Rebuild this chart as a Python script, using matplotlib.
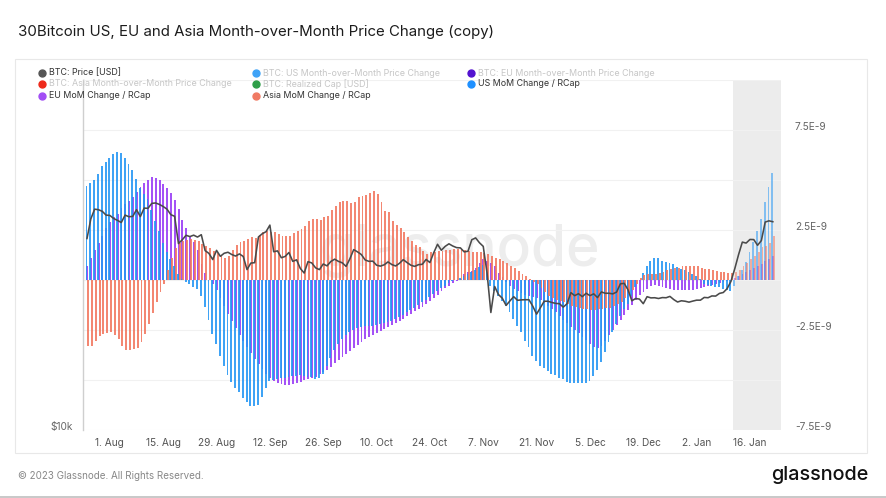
import datetime as dt

import numpy as np
import matplotlib
matplotlib.use("Agg")
import matplotlib.pyplot as plt
import matplotlib.dates as mdates
import matplotlib.transforms as mtransforms
from matplotlib.lines import Line2D
from matplotlib.patches import Rectangle
from matplotlib.ticker import FixedLocator, NullLocator

plt.rcParams["font.family"] = ["Inter", "DejaVu Sans"]

# ---------- data (daily, 26 Jul 2022 .. 22 Jan 2023) ----------

start_day = dt.date(2022, 7, 26)
shade_start = dt.datetime(2023, 1, 11, 14)   # last days drawn on grey background

# month-over-month change / realized cap, in units of 1E-9
us_mom = [
    4.7, 4.85, 5.0, 5.3, 5.7, 5.9, 6.1, 6.3, 6.4, 6.35,
    6.1, 5.8, 5.5, 5.05, 4.6, 4.3, 4.05, 3.5, 2.95, 2.45,
    1.85, 1.4, 1.05, 0.7, 0.3, 0.05, -0.1, -0.2, -0.35, -0.45,
    -0.8, -1.35, -2.0, -2.7, -3.2, -3.8, -4.3, -4.75, -5.1, -5.4,
    -5.6, -5.9, -6.1, -6.3, -6.3, -6.25, -5.85, -5.4, -5.05, -5.0,
    -4.95, -4.9, -4.9, -4.85, -4.8, -4.8, -4.75, -4.8, -4.85, -4.85,
    -4.95, -4.9, -4.7, -4.3, -3.9, -3.5, -3.2, -2.95, -2.75, -2.6,
    -2.5, -2.4, -2.35, -2.3, -2.3, -2.3, -2.25, -2.2, -2.15, -2.1,
    -2.05, -1.95, -1.85, -1.75, -1.6, -1.5, -1.4, -1.25, -1.1, -1.0,
    -0.85, -0.7, -0.55, -0.4, -0.3, -0.15, -0.05, 0.0, 0.1, 0.2,
    0.3, 0.4, 0.5, 0.65, 0.75, 0.5, -0.3, -0.55, -0.8, -1.05,
    -1.3, -1.6, -1.95, -2.3, -2.6, -3.05, -3.35, -3.8, -4.05, -4.3,
    -4.4, -4.55, -4.7, -4.75, -4.9, -4.95, -5.1, -5.15, -5.15, -5.15,
    -5.15, -5.15, -5.05, -4.8, -4.5, -4.1, -3.6, -3.1, -2.6, -2.2,
    -1.8, -1.45, -1.2, -0.8, -0.35, 0.0, 0.35, 0.7, 0.95, 1.1,
    1.1, 0.95, 0.9, 0.85, 0.8, 0.65, 0.55, 0.5, 0.4, 0.3,
    0.2, 0.05, -0.2, -0.25, -0.3, -0.35, -0.35, -0.45, -0.5, -0.55,
    -0.3, 0.2, 0.5, 0.9, 1.4, 1.9, 2.45, 3.05, 3.9, 4.65, 5.35,
]

eu_mom = [
    0.7, 1.1, 1.5, 1.85, 2.2, 2.6, 2.9, 3.15, 3.3, 3.6,
    3.8, 3.95, 4.15, 4.4, 4.65, 4.85, 5.0, 5.15, 5.1, 5.0,
    4.8, 4.6, 4.35, 4.0, 3.55, 3.0, 2.6, 2.2, 1.9, 1.5,
    0.8, 0.35, 0.0, -0.2, -0.5, -0.9, -1.3, -1.7, -2.05, -2.4,
    -2.75, -3.05, -3.35, -3.65, -3.95, -4.2, -4.45, -4.7, -4.9, -5.05,
    -5.15, -5.2, -5.25, -5.25, -5.2, -5.15, -5.1, -5.0, -4.95, -4.9,
    -4.85, -4.7, -4.6, -4.5, -4.35, -4.15, -4.0, -3.85, -3.7, -3.55,
    -3.4, -3.25, -3.1, -2.95, -2.85, -2.75, -2.65, -2.55, -2.45, -2.35,
    -2.25, -2.15, -2.05, -1.95, -1.8, -1.7, -1.55, -1.45, -1.35, -1.2,
    -1.05, -0.9, -0.75, -0.55, -0.4, -0.3, -0.15, -0.05, 0.05, 0.3,
    0.4, 0.45, 0.6, 0.85, 1.05, 0.95, 0.85, 0.7, 0.35, 0.15,
    -0.1, -0.3, -0.45, -0.55, -0.65, -0.75, -0.8, -0.85, -0.9, -1.0,
    -1.15, -1.3, -1.45, -1.6, -1.8, -2.0, -2.15, -2.35, -2.5, -2.65,
    -2.85, -3.0, -3.2, -3.35, -3.4, -3.3, -3.05, -2.75, -2.5, -2.25,
    -2.0, -1.75, -1.5, -1.25, -1.0, -0.75, -0.6, -0.45, -0.3, -0.25,
    -0.3, -0.35, -0.4, -0.45, -0.5, -0.5, -0.5, -0.5, -0.5, -0.5,
    -0.45, -0.4, -0.35, -0.3, -0.25, -0.2, -0.15, -0.1, -0.05, 0.0,
    0.1, 0.2, 0.3, 0.4, 0.5, 0.6, 0.7, 0.8, 0.95, 1.05, 1.2,
]

asia_mom = [
    -3.3, -3.3, -3.05, -2.8, -2.7, -2.65, -2.6, -2.75, -2.95, -3.3,
    -3.5, -3.5, -3.45, -3.4, -3.1, -2.7, -2.2, -1.65, -1.1, -0.6,
    -0.2, 0.5, 1.1, 1.6, 1.85, 1.95, 2.0, 2.05, 2.0, 1.95,
    1.8, 1.7, 1.6, 1.45, 1.35, 1.2, 1.1, 1.2, 1.5, 1.75,
    1.9, 1.95, 2.05, 2.15, 2.1, 2.25, 2.4, 2.45, 2.4, 2.4,
    2.3, 2.2, 2.2, 2.2, 2.35, 2.45, 2.55, 2.7, 2.95, 3.05,
    3.05, 3.0, 3.15, 3.2, 3.5, 3.7, 3.9, 3.95, 3.95, 3.85,
    3.9, 4.15, 4.2, 4.25, 4.35, 4.45, 4.3, 3.9, 3.45, 3.4,
    2.95, 2.75, 2.6, 2.4, 2.15, 1.95, 1.75, 1.65, 1.45, 1.3,
    1.4, 1.4, 1.45, 1.45, 1.5, 1.5, 1.55, 1.55, 1.55, 1.5,
    1.45, 1.4, 1.4, 1.4, 1.35, 1.3, 1.2, 1.1, 1.05, 0.95,
    0.85, 0.7, 0.6, 0.45, 0.3, 0.2, 0.05, -0.1, -0.2, -0.4,
    -0.6, -0.8, -0.9, -1.0, -1.05, -1.1, -1.2, -1.3, -1.35, -1.4,
    -1.45, -1.45, -1.5, -1.5, -1.45, -1.45, -1.4, -1.4, -1.3, -1.2,
    -1.1, -0.9, -0.7, -0.5, -0.2, 0.1, 0.25, 0.3, 0.3, 0.3,
    0.35, 0.4, 0.5, 0.55, 0.6, 0.6, 0.7, 0.7, 0.7, 0.7,
    0.7, 0.6, 0.55, 0.55, 0.5, 0.45, 0.4, 0.4, 0.35, 0.35,
    0.4, 0.5, 0.7, 0.85, 1.05, 1.2, 1.4, 1.65, 1.7, 1.85, 2.2,
]

# BTC price, thousands of USD
btc_price = [
    21.25, 22.95, 23.85, 23.8, 23.65, 23.3,
    23.27, 22.99, 22.82, 22.63, 23.3, 23.15, 23.18, 23.8, 23.16, 23.95,
    23.93, 24.4, 24.44, 24.3, 24.1, 23.85, 23.34, 23.19, 20.83, 21.14,
    21.52, 21.41, 21.53, 21.37, 21.57, 20.26, 20.04, 19.56, 20.28, 19.81, 20.05,
    20.13, 19.95, 19.83, 20.0, 19.8, 18.8, 19.29, 19.32, 21.38, 21.65,
    21.83, 22.4, 20.17, 20.24, 19.7, 19.8, 20.11, 19.42, 19.54, 18.88,
    18.55, 19.4, 19.3, 18.93, 18.8, 19.22, 19.08, 19.41, 19.59, 19.42,
    19.31, 19.04, 19.62, 20.34, 20.16, 19.95, 19.53, 19.42, 19.44, 19.13,
    19.06, 19.16, 19.38, 19.18, 19.07, 19.27, 19.55, 19.33, 19.13, 19.04,
    19.17, 19.2, 19.57, 19.33, 20.09, 20.77, 20.29, 20.6, 20.81, 20.63, 20.5,
    20.48, 20.16, 20.21, 21.15, 21.3, 20.9, 20.6, 18.55, 15.88, 17.59,
    17.04, 16.8, 16.33, 16.62, 16.9, 16.66, 16.69, 16.7, 16.7, 16.28,
    15.78, 16.19, 16.6, 16.6, 16.52, 16.46, 16.44, 16.22, 16.44, 17.17,
    16.97, 17.1, 16.9, 17.13, 16.97, 17.09, 16.84, 17.22, 17.13, 17.13,
    17.09, 17.21, 17.78, 17.81, 17.36, 16.63, 16.78, 16.74, 16.44, 16.9,
    16.82, 16.83, 16.78, 16.84, 16.83, 16.92, 16.71, 16.55, 16.63, 16.6, 16.54,
    16.61, 16.67, 16.67, 16.85, 16.83, 16.95, 16.94, 17.12, 17.18, 17.44,
    17.94, 18.85, 19.93, 20.95, 20.87, 21.17, 21.16, 20.69, 21.08, 22.67,
    22.78, 22.7,
]

tick_dates = [dt.date(2022, 8, 1), dt.date(2022, 8, 15), dt.date(2022, 8, 29),
              dt.date(2022, 9, 12), dt.date(2022, 9, 26), dt.date(2022, 10, 10),
              dt.date(2022, 10, 24), dt.date(2022, 11, 7), dt.date(2022, 11, 21),
              dt.date(2022, 12, 5), dt.date(2022, 12, 19), dt.date(2023, 1, 2),
              dt.date(2023, 1, 16)]
tick_labels = ["1. Aug", "15. Aug", "29. Aug", "12. Sep", "26. Sep", "10. Oct",
               "24. Oct", "7. Nov", "21. Nov", "5. Dec", "19. Dec", "2. Jan", "16. Jan"]

right_ticks = [7.5e-9, 2.5e-9, -2.5e-9, -7.5e-9]
right_labels = ["7.5E-9", "2.5E-9", "-2.5E-9", "-7.5E-9"]
grid_ticks = [-5e-9, 0.0, 5e-9, 10e-9]

legend_labels = [
    "BTC: Price [USD]", "BTC: US Month-over-Month Price Change", "BTC: EU Month-over-Month Price Change",
    "BTC: Asia Month-over-Month Price Change", "BTC: Realized Cap [USD]", "US MoM Change / RCap",
    "EU MoM Change / RCap", "Asia MoM Change / RCap",
]
legend_dots = ["#555555", "#3fa3f7", "#5312d0", "#ee2a1b", "#2e9e48", "#1e90ff", "#a24ef5", "#f07a63"]
legend_active = [True, False, False, False, False, True, True, True]

US_C, EU_C, ASIA_C = "#2496f4", "#a452f6", "#f2765e"

# ---------- figure ----------

W, H = 886, 498
fig = plt.figure(figsize=(W / 100, H / 100), dpi=100)


def fx(px):
    return px / W


def fy(py):
    return 1 - py / H


# card + bottom strip
fig.add_artist(Rectangle((fx(15), fy(453)), fx(852), 394 / H, transform=fig.transFigure,
                         fill=False, edgecolor="#e8e8e8", lw=0.8))
fig.add_artist(Rectangle((0, 0), 1, 2.5 / H, transform=fig.transFigure, color="#c9c9c9", lw=0))

ax = fig.add_axes([fx(83), fy(430), 698 / W, 350 / H])
ax.set_facecolor("none")

days = mdates.date2num(start_day) + np.arange(len(us_mom))
shade_x = mdates.date2num(shade_start)
late = days >= shade_x
early = ~late

ax.axvspan(shade_x, days[-1] + 5, color="#ececec", lw=0, zorder=0.2)
ax.text(0.54, 0.51, "glassnode", transform=ax.transAxes, ha="center", va="center",
        fontsize=41, color="#ededed", fontweight="medium", zorder=0.3)

us = np.array(us_mom) * 1e-9
eu = np.array(eu_mom) * 1e-9
asia = np.array(asia_mom) * 1e-9
bw = 0.5
for vals, col, off, a in [(eu, EU_C, 0.05, 1.0), (us, US_C, -0.12, 0.88), (asia, ASIA_C, 0.3, 0.88)]:
    ax.bar(days[early] + off, vals[early], width=bw, color=col, alpha=a, lw=0, zorder=2)
    ax.bar(days[late] + off, vals[late], width=bw, color=col, alpha=a * 0.6, lw=0, zorder=2)

ax.set_xlim(mdates.date2num(start_day) - 1.05, mdates.date2num(start_day) + 182.15)
ax.set_ylim(-7.5e-9, 10e-9)
ax.set_xticks(mdates.date2num(tick_dates))
ax.set_xticklabels(tick_labels)
ax.tick_params(axis="x", length=0, pad=6, labelsize=7.3, labelcolor="#555555")
for s in ax.spines.values():
    s.set_visible(False)

# price on log axis, left side
ax_p = ax.twinx()
ax_p.plot(days, btc_price, color="#4a4a4a", lw=1.15, zorder=3)
ax_p.set_yscale("log")
ax_p.set_ylim(10, 10 * 10 ** (350 / 585))
ax_p.yaxis.tick_left()
ax_p.yaxis.set_major_locator(FixedLocator([10]))
ax_p.yaxis.set_minor_locator(NullLocator())
ax_p.set_yticklabels(["$10k"])
ax_p.tick_params(axis="y", length=0, pad=7, labelsize=7.3, labelcolor="#666666")
up = mtransforms.ScaledTranslation(0, 3 / 72, fig.dpi_scale_trans)
for lbl in ax_p.get_yticklabels():
    lbl.set_transform(lbl.get_transform() + up)
for name, s in ax_p.spines.items():
    s.set_visible(name == "left")
ax_p.spines["left"].set_color("#cfcfcf")
ax_p.spines["left"].set_linewidth(1.0)

# bar values on the right axis (after twinx, which moves ticks)
ax.yaxis.tick_right()
ax.yaxis.set_major_locator(FixedLocator(right_ticks))
ax.set_yticklabels(right_labels)
ax.yaxis.set_minor_locator(FixedLocator(grid_ticks))
ax.grid(axis="y", which="both", color="#f1f1f1", lw=0.8, zorder=0.1)
ax.set_axisbelow(True)
ax.tick_params(axis="y", which="both", length=0, pad=10, labelsize=7.3,
               labelcolor="#666666", left=False, labelleft=False, right=True, labelright=True)
for lbl in ax.get_yticklabels():
    lbl.set_transform(lbl.get_transform() + up)

# legend, three columns
col_x = [42, 256, 471]
row_y = [73, 84, 96]
for k, (lab, dot, on) in enumerate(zip(legend_labels, legend_dots, legend_active)):
    x0, y0 = col_x[k % 3], row_y[k // 3]
    fig.add_artist(Line2D([fx(x0)], [fy(y0)], marker="o", markersize=5, color=dot,
                          transform=fig.transFigure, lw=0))
    fig.text(fx(x0 + 7), fy(y0), lab, fontsize=6.4, va="center", ha="left",
             color="#333333" if on else "#c6c6c6")

fig.text(fx(18), fy(32), "30Bitcoin US, EU and Asia Month-over-Month Price Change (copy)",
         fontsize=10.8, va="center", ha="left", color="#1c1c1c")
fig.text(fx(18), fy(476), "\u00a9 2023 Glassnode. All Rights Reserved.",
         fontsize=7.1, va="center", ha="left", color="#888888")
fig.text(fx(868), fy(475), "glassnode", fontsize=14.3, va="center", ha="right",
         color="#111111", fontweight="medium")

fig.savefig("out.png", dpi=100)
